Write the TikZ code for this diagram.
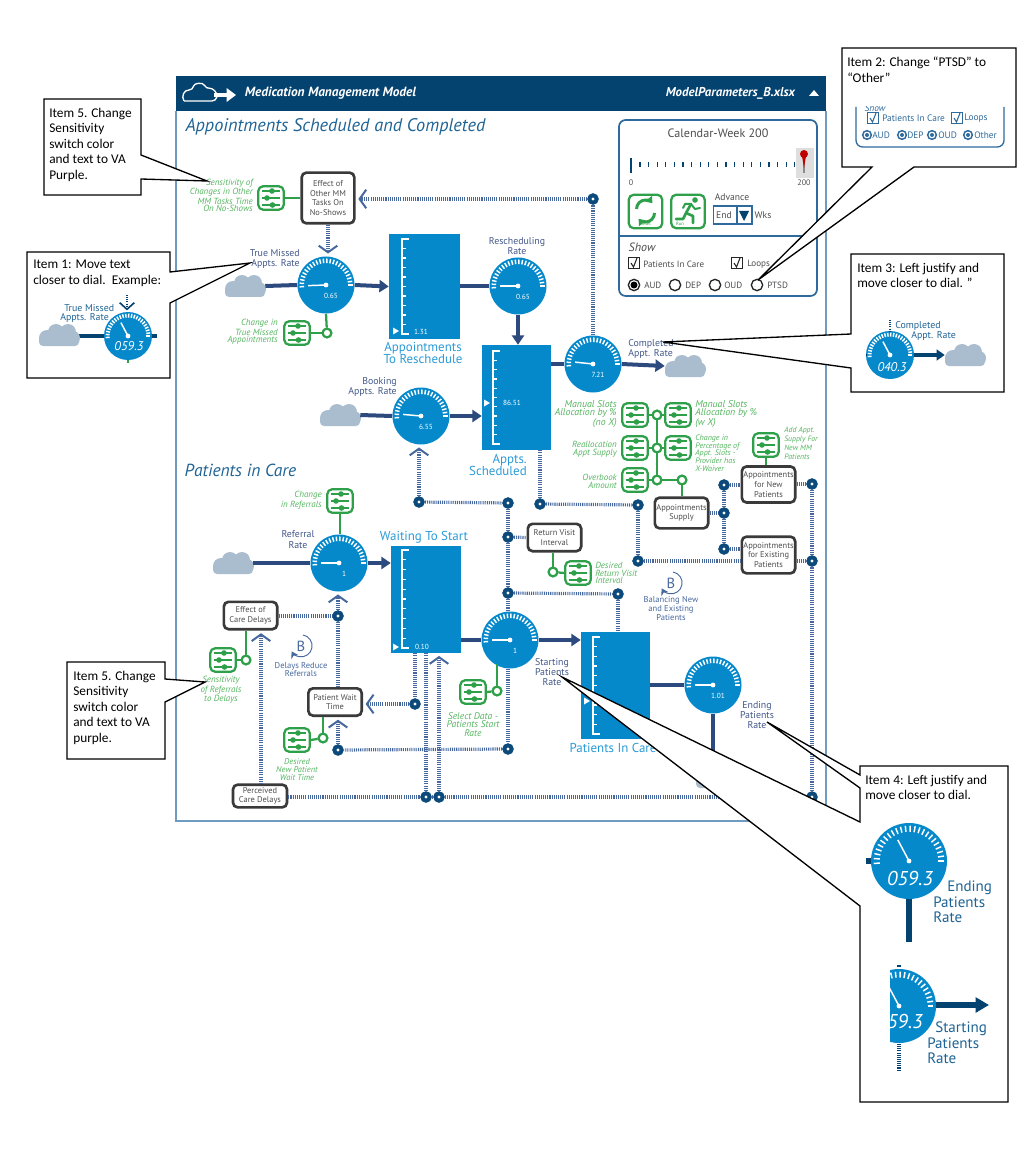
\documentclass[tikz,border=0pt]{standalone}
\usepackage{fontspec}
\setmainfont{Carlito}
\newfontfamily\modelfont{PT Sans}
\usepackage{xcolor}
\usetikzlibrary{shapes,arrows,arrows.meta,positioning}

\definecolor{headblue}{HTML}{04426F}
\definecolor{framecol}{HTML}{6F9BC0}
\definecolor{dialblue}{HTML}{0689CB}
\definecolor{stocktext}{HTML}{2A9AD6}
\definecolor{flowblue}{HTML}{2C4A7E}
\definecolor{ctrlblue}{HTML}{47689E}
\definecolor{junctblue}{HTML}{0B4A7A}
\definecolor{swgreen}{HTML}{2FA04A}
\definecolor{swtext}{HTML}{55B560}
\definecolor{labelblue}{HTML}{43588A}
\definecolor{titleblue}{HTML}{1F6495}
\definecolor{cloudgrey}{HTML}{A9BDCE}
\definecolor{boxdark}{HTML}{3A3A3A}
\definecolor{panelblue}{HTML}{2F6A9C}

\newcommand{\gauge}[6]{%
  \node[dialface, minimum size=#4*1.5pt] (#1) at (#2,#3) {};
  \foreach \a in {176,184,...,364} \draw[dialtick] (#2,#3) ++(\a:{#4*.77}) -- ++(\a:{#4*.16});
  \draw[needle] (#2,#3) -- ++(#5:{#4*.63});
  \fill[white] (#2,#3) circle[radius=2.4];
  \node[dialvalue] (#1val) at ({#2+5},{#3+10.5}) {#6};
}
\newcommand{\swicon}[3]{%
  \node[switchbox] (#1) at (#2,#3) {};
  \begin{scope}[shift={(#2,#3)}]
    \foreach \yy/\dd in {-7/1,0/-4,7/1.5} {
      \draw[swgreen, line width=1pt] (-9,\yy) -- (9,\yy);
      \fill[swgreen] (\dd,\yy) circle[radius=2.8];
    }
  \end{scope}
}
\newcommand{\cloudicon}[3]{%
  \node[minimum width=30pt, minimum height=16pt, inner sep=0pt] (#1) at (#2,#3) {};
  \begin{scope}[shift={(#2,#3)}]
    \fill[cloudgrey, rounded corners=3pt] (-20,0) rectangle (20,11);
    \fill[cloudgrey] (-12,3) circle[radius=8] (-3,-3) circle[radius=8] (9,-3) circle[radius=8] (14,3) circle[radius=7];
  \end{scope}
}
\newcommand{\stockscale}[4]{%
  \draw[white, line width=1pt] (#1+7,#2) -- (#1,#2) -- (#1,#3) -- (#1+7,#3);
  \foreach \k in {1,...,9} \draw[white, line width=1pt] (#1,{#2+(#3-#2)*\k/10}) -- ++(4,0);
  \fill[white] (#1-9,#4-3.5) -- (#1-3,#4) -- (#1-9,#4+3.5) -- cycle;
}
\newcommand{\chkbox}[4]{%
  \node[draw=#4, fill=white, line width=.9pt, minimum size=8.5pt, inner sep=0pt] (#1) at (#2,#3) {};
  \draw[#4, line width=.8pt] (#2-3,#3) -- (#2-.5,#3+4) -- (#2+3,#3-5);
}

\begin{document}
\begin{tikzpicture}[
    x=0.75pt, y=-0.75pt,
    dialface/.style={circle, fill=dialblue, inner sep=0pt},
    dialtick/.style={white, line width=1.1pt},
    needle/.style={white, line width=1.1pt},
    dialvalue/.style={white, inner sep=0pt, font=\modelfont\fontsize{5.5}{6}\selectfont},
    insetvalue/.style={white, inner sep=0pt, font=\modelfont\itshape},
    switchbox/.style={rectangle, draw=swgreen, fill=white, line width=1.7pt, rounded corners=3.5pt, minimum width=19pt, minimum height=17.5pt},
    swlink/.style={swgreen, line width=1.7pt},
    ring/.style={circle, draw=swgreen, fill=white, line width=1.6pt, minimum size=6.5pt, inner sep=0pt},
    varbox/.style={rectangle, draw=boxdark, fill=white, line width=2pt, rounded corners=3.5pt, align=center, inner sep=0pt, font=\modelfont\fontsize{6.3}{7.3}\selectfont, text=boxdark!90},
    stock/.style={rectangle, fill=dialblue, inner sep=0pt},
    stockname/.style={text=stocktext, align=center, inner sep=0pt, font=\modelfont\fontsize{9.7}{9.4}\selectfont},
    stockvalue/.style={white, inner sep=0pt, font=\modelfont\fontsize{5.5}{6}\selectfont},
    flowlabel/.style={text=labelblue, align=center, inner sep=0pt, font=\modelfont\fontsize{7.4}{7.6}\selectfont},
    swlabel/.style={text=swtext, inner sep=0pt, font=\modelfont\itshape\fontsize{6.7}{5.7}\selectfont},
    flow/.style={flowblue, line width=3pt},
    flowarrow/.style={flowblue, line width=3pt, -{Triangle[length=7pt, width=9pt]}},
    ctrl/.style={ctrlblue, line width=2.4pt, dash pattern=on .8pt off .8pt},
    ctrlarrow/.style={ctrlblue, line width=2.4pt, dash pattern=on .8pt off .8pt, -{Straight Barb[length=5pt, width=14pt, line width=1.5pt]}, shorten >=2pt},
    junction/.style={circle, fill=junctblue, minimum size=8.5pt, inner sep=0pt, path picture={\fill[white] (path picture bounding box.center) circle[radius=1.2pt];}},
    callout/.style={draw=black, fill=white, line width=1pt, line join=miter},
    notetext/.style={anchor=north west, align=left, inner sep=0pt, font=\fontsize{10}{11.55}\selectfont},
    paneltext/.style={text=black!70, inner sep=0pt, font=\modelfont\fontsize{6.8}{7}\selectfont},
    radio/.style={circle, draw=black!85, fill=white, line width=1pt, minimum size=8.5pt, inner sep=0pt},
    miniradio/.style={circle, draw=panelblue, fill=white, line width=1.1pt, minimum size=6.5pt, inner sep=0pt, path picture={\fill[panelblue] (path picture bounding box.center) circle[radius=1.5pt];}},
    minitext/.style={text=panelblue, inner sep=0pt, font=\modelfont\fontsize{7}{7}\selectfont},
    insetlabel/.style={text=titleblue, inner sep=0pt, font=\modelfont}
]
\useasboundingbox (0,0) rectangle (1028,1155);

\draw[framecol, line width=1pt] (176,111) -- (176,821) -- (826,821) -- (826,111);
\node[rectangle, fill=headblue, minimum width=488pt, minimum height=26pt, inner sep=0pt, anchor=north west] (header) at (175.5,76) {};
\draw[white, line width=1pt, rounded corners=3pt] (184,101) -- (216,101) .. controls (218,92) and (212,88) .. (206,89) .. controls (203,82) and (194,83) .. (193,90) .. controls (184,90) and (181,96) .. (184,101);
\draw[white, line width=3pt, -{Triangle[length=7pt, width=10pt]}] (214,95) -- (236,95);
\node[white, inner sep=0pt, font=\modelfont\bfseries\itshape\fontsize{10}{10}\selectfont] (modelname) at (330.5,93) {Medication Management Model};
\node[white, inner sep=0pt, font=\modelfont\bfseries\itshape\fontsize{9.6}{10}\selectfont] (filename) at (730.5,93) {ModelParameters\_B.xlsx};
\fill[white] (809,96) -- (814,90) -- (819,96) -- cycle;
\node[text=titleblue, inner sep=0pt, font=\modelfont\itshape\fontsize{13.7}{15}\selectfont] (apptitle) at (335.5,127) {Appointments Scheduled and Completed};
\node[text=titleblue, inner sep=0pt, font=\modelfont\itshape\fontsize{13.1}{15}\selectfont] (caretitle) at (240.5,470) {Patients in Care};

\draw[panelblue, line width=1.3pt, rounded corners=5pt] (619,120) rectangle (817,296);
\draw[panelblue, line width=1.3pt] (619,236) -- (817,236);
\node[paneltext, font=\modelfont\fontsize{9.1}{9}\selectfont] (calweek) at (718,133) {Calendar-Week 200};
\fill[black!13] (796,148) rectangle (814,178);
\draw[headblue, line width=1pt] (631,158) -- (631,173);
\foreach \x in {640,648.6,...,796} \draw[headblue, line width=1pt] (\x,162.5) -- (\x,167);
\draw[black!45, line width=1pt] (804,158) -- (804,173);
\fill[red!75!black] (804,154) circle[radius=4];
\fill[red!75!black] (802,156) -- (806,156) -- (804,168) -- cycle;
\node[paneltext, font=\modelfont\fontsize{6}{6}\selectfont] (slide0) at (631,183) {0};
\node[paneltext, font=\modelfont\fontsize{6}{6}\selectfont] (slide200) at (804,183) {200};
\node[switchbox, minimum width=25pt, minimum height=25pt] (resetbtn) at (645.5,211.5) {};
\node[switchbox, minimum width=25pt, minimum height=25pt] (runbtn) at (688,211.5) {};
\draw[swgreen, line width=2.2pt, -{Triangle[length=4.5pt, width=6.5pt]}] (636.5,209) arc[start angle=180, end angle=320, radius=9];
\draw[swgreen, line width=2.2pt, -{Triangle[length=4.5pt, width=6.5pt]}] (654.5,213) arc[start angle=0, end angle=140, radius=9];
\node[text=swgreen, inner sep=0pt, font=\modelfont\fontsize{3.5}{4}\selectfont] (resettext) at (645.5,224) {Reset};
\fill[swgreen] (695,200) circle[radius=2.8];
\draw[swgreen, line width=2pt, line cap=round, line join=round] (691,204) -- (686,213) -- (693,216) -- (693,223);
\draw[swgreen, line width=2pt, line cap=round, line join=round] (686,213) -- (683,219) -- (676,219);
\draw[swgreen, line width=1.5pt, line cap=round, line join=round] (683,208) -- (685,204) -- (691,204) -- (695,209) -- (700,208);
\node[text=swgreen, inner sep=0pt, font=\modelfont\fontsize{3.5}{4}\selectfont] (runtext) at (680,224) {Run};
\node[paneltext, font=\modelfont\fontsize{7.2}{8}\selectfont] (advance) at (732,197) {Advance};
\node[rectangle, draw=panelblue, line width=1pt, minimum width=29pt, minimum height=13.5pt, inner sep=0pt] (endbox) at (732.5,215) {};
\draw[panelblue, line width=1pt] (737,206) -- (737,224);
\node[paneltext, font=\modelfont\fontsize{7.2}{8}\selectfont] (endtext) at (724,215) {End};
\fill[headblue] (739,211) -- (749,211) -- (744,221) -- cycle;
\node[paneltext, font=\modelfont\fontsize{7.2}{8}\selectfont] (wks) at (763,215) {Wks};
\node[paneltext, font=\modelfont\itshape\fontsize{9}{10}\selectfont] (showtext) at (642,247) {Show};
\chkbox{chkcare}{634}{263}{black!85}
\node[paneltext, anchor=west] (caretext) at (643,264) {Patients In Care};
\chkbox{chkloops}{737}{263}{black!85}
\node[paneltext, anchor=west] (loopstext) at (747,264) {Loops};
\node[radio] (radaud) at (634,285) {};
\fill[black] (634,285) circle[radius=3.5];
\node[radio] (raddep) at (675,285) {};
\node[radio] (radoud) at (715,285) {};
\node[radio] (radptsd) at (757,285) {};
\node[paneltext, anchor=west] (audtext) at (644,285) {AUD};
\node[paneltext, anchor=west] (deptext) at (685,285) {DEP};
\node[paneltext, anchor=west] (oudtext) at (724,285) {OUD};
\node[paneltext, anchor=west] (ptsdtext) at (767,285) {PTSD};

\node[stock, minimum width=53.25pt, minimum height=78.75pt] (toresched) at (424.5,286.5) {};
\stockscale{402}{239}{334}{331}
\node[stockvalue] (tore) at (421,332) {1.31};
\node[stockname] (toreschedname) at (423,353) {Appointments\\To Reschedule};
\node[stock, minimum width=51.75pt, minimum height=78.75pt] (sched) at (516.5,397.5) {};
\stockscale{493}{351}{444}{403}
\node[stockvalue] (schedval) at (512,403) {86.51};
\node[stockname, align=right, anchor=north east] (schedname) at (527,454) {Appts.\\Scheduled};
\node[stock, minimum width=52.5pt, minimum height=80.25pt] (waiting) at (426,599.5) {};
\stockscale{402}{550}{648}{647}
\node[stockvalue] (waitval) at (422,647) {0.10};
\node[stockname] (waitname) at (424,537) {Waiting To Start};
\node[stock, minimum width=51.75pt, minimum height=80.25pt] (incare) at (615.5,685.5) {};
\stockscale{593}{637}{734}{701}
\node[stockname] (incarename) at (613,748) {Patients In Care};

\cloudicon{cloudmiss}{245}{286}
\cloudicon{cloudbook}{340}{415}
\cloudicon{cloudref}{233}{563}
\cloudicon{cloudcomp}{685}{366}
\cloudicon{cloudend}{716}{777}

\gauge{dialmiss}{326}{285}{28.5}{178}{0.65}
\gauge{dialres}{518}{286}{28.5}{180}{0.65}
\gauge{dialcomp}{593}{364}{28.5}{186}{7.21}
\gauge{dialbook}{421}{416}{28.5}{185}{6.55}
\gauge{dialref}{339}{563}{28.5}{180}{1}
\gauge{dialstart}{510}{640}{28.5}{180}{1}
\gauge{dialend}{713}{685}{28.5}{180}{1.01}

\draw[flow] (cloudmiss.east) -- (dialmiss.west);
\draw[flowarrow] (dialmiss.east) -- (toresched.west);
\draw[flow] (toresched.east |- dialres.west) -- (dialres.west);
\draw[flowarrow] (dialres.south) -- (dialres.south |- sched.north);
\draw[flow] (sched.east |- dialcomp.west) -- (dialcomp.west);
\draw[flowarrow] (dialcomp.east) -- (cloudcomp.west);
\draw[flow] (cloudbook.east) -- (dialbook.west);
\draw[flowarrow] (dialbook.east) -- (dialbook.east -| sched.west);
\draw[flow] (cloudref.east) -- (dialref.west);
\draw[flowarrow] (dialref.east) -- (dialref.east -| waiting.west);
\draw[flow] (waiting.east |- dialstart.west) -- (dialstart.west);
\draw[flowarrow] (dialstart.east) -- (dialstart.east -| incare.west);
\draw[flow] (incare.east |- dialend.west) -- (dialend.west);
\draw[flow] (dialend.south) -- (cloudend.north -| dialend.south);

\node[flowlabel, align=right, anchor=east] (missname) at (300,259) {True Missed\\Appts. Rate};
\node[flowlabel] (resname) at (517,246.5) {Rescheduling\\Rate};
\node[flowlabel, align=right, anchor=east] (bookname) at (397,387) {Booking\\Appts. Rate};
\node[flowlabel, align=left, anchor=west] (compname) at (628,349) {Completed\\Appt. Rate};
\node[flowlabel] (refname) at (298,539.5) {Referral\\Rate};
\node[flowlabel] (startname) at (552,672) {Starting\\Patients\\Rate};
\node[flowlabel] (endname) at (757,715) {Ending\\Patients\\Rate};

\node[varbox, minimum width=39.5pt, minimum height=38pt] (effshow) at (328,198) {Effect of\\Other MM\\Tasks On\\No-Shows};
\node[varbox, minimum width=40pt, minimum height=20.5pt] (effcare) at (250.5,615.5) {Effect of\\Care Delays};
\node[varbox, minimum width=40pt, minimum height=20.5pt] (waittime) at (335,702) {Patient Wait\\Time};
\node[varbox, minimum width=40.5pt, minimum height=17pt] (percdelay) at (260,796) {Perceived\\Care Delays};
\node[varbox, minimum width=40pt, minimum height=20.5pt] (revisit) at (554.5,537.5) {Return Visit\\Interval};
\node[varbox, minimum width=40pt, minimum height=23pt] (supply) at (681.5,513) {Appointments\\Supply};
\node[varbox, minimum width=40pt, minimum height=27pt] (apptnew) at (768.5,484.5) {Appointments\\for New\\Patients};
\node[varbox, minimum width=40pt, minimum height=27.5pt] (apptold) at (768.5,555) {Appointments\\for Existing\\Patients};

\node[junction] (jeff) at (593,199) {};
\node[junction] (jbook) at (419,502) {};
\node[junction] (jtop) at (508,503) {};
\node[junction] (jvisit) at (508,537) {};
\node[junction] (jstart) at (508,593) {};
\node[junction] (jcare) at (618,594) {};
\node[junction] (jbot) at (508,749) {};
\node[junction] (jwait) at (338,750) {};
\node[junction] (jstock) at (415,704) {};
\node[junction] (jdelay) at (338,616) {};
\node[junction] (jperc) at (426,797) {};
\node[junction] (jperb) at (439,797) {};
\node[junction] (jright) at (812,797) {};
\node[junction] (jnewr) at (812,484) {};
\node[junction] (joldr) at (812,561) {};
\node[junction] (jnewl) at (724,485) {};
\node[junction] (jsup) at (724,513) {};
\node[junction] (joldl) at (724,549) {};
\node[junction] (jsched) at (540,504) {};
\node[junction] (jmid) at (638,505) {};
\node[junction] (jold) at (638,561) {};

\draw[ctrl] (dialcomp.north) -- (jeff);
\draw[ctrlarrow] (jeff) -- (jeff -| effshow.east);
\draw[ctrlarrow] (effshow.south) -- (effshow.south |- dialmiss.north);
\draw[ctrlarrow] (jbook) -- (jbook |- dialbook.south);
\draw[ctrl] (jbook) -- (jtop);
\draw[ctrl] (jtop) -- (jvisit);
\draw[ctrl] (jvisit) -- (jstart);
\draw[ctrl] (jstart) -- (jstart |- dialstart.north);
\draw[ctrl] (jvisit) -- (revisit.west);
\draw[ctrl] (jstart) -- (jcare);
\draw[ctrl] (jcare) -- (jcare |- incare.north);
\draw[ctrl] (jstart |- dialstart.south) -- (jbot);
\draw[ctrl] (jbot) -- (jwait);
\draw[ctrlarrow] (jwait) -- (jwait |- waittime.south);
\draw[ctrl] (jstock |- waiting.south) -- (jstock);
\draw[ctrlarrow] (jstock) -- (jstock -| waittime.east);
\draw[ctrl] (jperc |- waiting.south) -- (jperc);
\draw[ctrlarrow] (jperb) -- (jperb |- waiting.south);
\draw[ctrl] (percdelay.east |- jperc) -- (jperc);
\draw[ctrl] (jperc) -- (jperb);
\draw[ctrl] (jperb) -- (jright);
\coordinate (percup) at (261,784);
\draw[ctrlarrow] (percup) -- (percup |- effcare.south);
\draw[ctrl] (effcare.east |- jdelay) -- (jdelay);
\draw[ctrlarrow] (jdelay) -- (jdelay |- dialref.south);
\draw[ctrl] (jdelay) -- (jdelay |- waittime.north);
\draw[ctrl] (jright) -- (joldr);
\draw[ctrl] (joldr) -- (jnewr);
\draw[ctrl] (apptnew.east |- jnewr) -- (jnewr);
\draw[ctrl] (apptold.east |- joldr) -- (joldr);
\draw[ctrl] (jnewl) -- (jsup);
\draw[ctrl] (jsup) -- (joldl);
\draw[ctrl] (jnewl) -- (jnewl -| apptnew.west);
\draw[ctrl] (joldl) -- (joldl -| apptold.west);
\draw[ctrl] (supply.east) -- (jsup);
\draw[ctrl] (jsched |- sched.south) -- (jsched);
\draw[ctrl] (jsched) -- (jmid);
\draw[ctrl] (jmid) -- (jold);
\draw[ctrl] (jold) -- (jold -| apptold.west);
\foreach \j in {jeff,jbook,jtop,jvisit,jstart,jcare,jbot,jwait,jstock,jdelay,jperc,jperb,jright,jnewr,joldr,jnewl,jsup,joldl,jsched,jmid,jold} \node[junction] at (\j) {};

\swicon{swshow}{271}{198}
\swicon{swmiss}{297}{333}
\swicon{swref}{223}{660}
\swicon{swchg}{340}{501}
\swicon{swwait}{297}{740}
\swicon{swstart}{473}{692}
\swicon{swvisit}{578}{573}
\swicon{swslotl}{635}{415}
\swicon{swslotr}{678}{415}
\swicon{swrealloc}{635}{448}
\swicon{swpct}{678}{448}
\swicon{swover}{635}{480}
\swicon{swadd}{766}{445}

\node[ring] (rmiss) at (327,333) {};
\node[ring] (rref) at (246,660) {};
\node[ring] (rwait) at (323,738) {};
\node[ring] (rstart) at (497,691) {};
\node[ring] (rvisit) at (553,572) {};
\node[ring] (rslot) at (657,415) {};
\node[ring] (rreal) at (657,448) {};
\node[ring] (rover) at (657,480) {};
\node[ring] (rsup) at (682,480) {};

\draw[swlink] (swshow.east) -- (effshow.west |- swshow.east);
\draw[swlink] (dialmiss.south) -- (rmiss);
\draw[swlink] (rmiss) -- (swmiss.east);
\draw[swlink] (rref |- effcare.south) -- (rref);
\draw[swlink] (rref) -- (swref.east);
\draw[swlink] (swchg.south) -- (swchg.south |- dialref.north);
\draw[swlink] (rwait |- waittime.south) -- (rwait);
\draw[swlink] (rwait) -- (swwait.east);
\draw[swlink] (497,664) -- (rstart);
\draw[swlink] (rstart) -- (swstart.east);
\draw[swlink] (rvisit |- revisit.south) -- (rvisit);
\draw[swlink] (rvisit) -- (swvisit.west);
\draw[swlink] (swslotl.east) -- (rslot);
\draw[swlink] (rslot) -- (swslotr.west);
\draw[swlink] (swrealloc.east) -- (rreal);
\draw[swlink] (rreal) -- (swpct.west);
\draw[swlink] (swover.east) -- (rover);
\draw[swlink] (rover) -- (rsup);
\draw[swlink] (rslot) -- (rreal);
\draw[swlink] (rreal) -- (rover);
\draw[swlink] (rsup) -- (rsup |- supply.north);
\draw[swlink] (swadd.south) -- (swadd.south |- apptnew.north);
\foreach \r in {rmiss,rref,rwait,rstart,rvisit,rslot,rreal,rover,rsup} \node[ring] at (\r) {};

\node[swlabel, align=right, anchor=east] (lblshow) at (253,195.5) {Sensitivity of\\Changes in Other\\MM Tasks Time\\On No-Shows};
\node[swlabel, align=right, anchor=east] (lblmiss) at (278,332) {Change in\\True Missed\\Appointments};
\node[swlabel, align=center] (lblref) at (221,690) {Sensitivity\\of Referrals\\to Delays};
\node[swlabel, align=right, anchor=east] (lblchg) at (322,500.5) {Change\\in Referrals};
\node[swlabel, align=center, font=\modelfont\itshape\fontsize{6.3}{5.7}\selectfont] (lblwait) at (297,769.5) {Desired\\New Patient\\Wait Time};
\node[swlabel, align=center, font=\modelfont\itshape\fontsize{7.2}{6.2}\selectfont] (lblstart) at (473,724.5) {Select Data -\\Patients Start\\Rate};
\node[swlabel, align=left, anchor=west] (lblvisit) at (595,573) {Desired\\Return Visit\\Interval};
\node[swlabel, align=right, anchor=east, font=\modelfont\itshape\fontsize{7.4}{5.7}\selectfont] (lblslotl) at (617,414.5) {Manual Slots\\Allocation by \%\\(no X)};
\node[swlabel, align=left, anchor=west, font=\modelfont\itshape\fontsize{7.4}{5.7}\selectfont] (lblslotr) at (695,414.5) {Manual Slots\\Allocation by \%\\(w X)};
\node[swlabel, align=right, anchor=east] (lblreal) at (617,449) {Reallocation\\Appt Supply};
\node[swlabel, align=left, anchor=west, font=\modelfont\itshape\fontsize{6}{5.7}\selectfont] (lblpct) at (695,453) {Change in\\Percentage of\\Appt. Slots -\\Provider has\\X-Waiver};
\node[swlabel, align=right, anchor=east] (lblover) at (617,481.5) {Overbook\\Amount};
\node[swlabel, align=left, anchor=west, font=\modelfont\itshape\fontsize{5.8}{6.7}\selectfont] (lbladd) at (784,443.5) {Add Appt.\\Supply For\\New MM\\Patients};

\node[text=ctrlblue, inner sep=0pt, font=\modelfont\fontsize{11}{12}\selectfont] (loopdelay) at (301,646) {B};
\draw[ctrlblue, line width=.7pt, -{Stealth[length=5pt, width=6pt]}] (303,635) arc[start angle=-80, end angle=150, radius=11];
\node[text=ctrlblue, align=center, inner sep=0pt, font=\modelfont\fontsize{6.4}{6.7}\selectfont] (loopdelayname) at (301,669.5) {Delays Reduce\\Referrals};
\node[text=ctrlblue, inner sep=0pt, font=\modelfont\fontsize{11}{12}\selectfont] (loopbal) at (671,583) {B};
\draw[ctrlblue, line width=.7pt, -{Stealth[length=5pt, width=6pt]}] (673,572) arc[start angle=-80, end angle=150, radius=11];
\node[text=ctrlblue, align=center, inner sep=0pt, font=\modelfont\fontsize{6.4}{5.7}\selectfont] (loopbalname) at (671,608.5) {Balancing New\\and Existing\\Patients};

\draw[callout] (44,99) -- (141,99) -- (141,155) -- (207,181) -- (141,179) -- (141,195) -- (44,195) -- cycle;
\node[notetext] (item5a) at (49,108) {Item 5. Change\\Sensitivity\\switch color\\and text to VA\\Purple.};

\draw[callout] (27,252) -- (170,252) -- (170,272) -- (250,263) -- (170,303) -- (170,378) -- (27,378) -- cycle;
\node[notetext] (item1) at (33,260) {Item 1: Move text\\closer to dial.\ \ Example:};
\gauge{dialone}{128}{336}{24}{242}{}
\draw[headblue, line width=3pt] (73,336) -- (dialone.west);
\draw[headblue, line width=3pt] (dialone.east) -- (157,336);
\cloudicon{cloudone}{59}{335}
\coordinate (onetop) at (127,295);
\draw[ctrlarrow, headblue, line width=1.6pt, -{Straight Barb[length=5pt, width=11pt, line width=1.2pt]}, shorten >=1pt] (onetop) -- (dialone.north -| onetop);
\draw[swgreen, line width=1.5pt] (dialone.south) -- ++(0,3);
\node[insetvalue, font=\modelfont\itshape\fontsize{9.5}{10}\selectfont] (oneval) at (129,346) {059.3};
\node[insetlabel, align=left, anchor=west, font=\modelfont\fontsize{7.4}{6.7}\selectfont] (onename) at (60,313.5) {\hspace*{3pt}True Missed\\Appts. Rate};

\draw[callout] (842,48) -- (1016,48) -- (1016,167) -- (914,167) -- (758,280) -- (872,167) -- (842,167) -- cycle;
\node[notetext] (item2) at (847,57) {Item 2: Change “PTSD” to\\“Other”};
\draw[panelblue, line width=1pt, rounded corners=5pt] (856,107) -- (856,147) -- (1004,147) -- (1004,107);
\begin{scope}
  \clip (854,107) rectangle (905,112);
  \node[minitext, font=\modelfont\itshape\fontsize{7}{7}\selectfont] (minishow) at (875,108) {Show};
\end{scope}
\chkbox{minicare}{873}{118}{panelblue}
\node[minitext, anchor=west] (minicaretext) at (882,118) {Patients In Care};
\chkbox{miniloops}{957}{118}{panelblue}
\node[minitext, anchor=west] (miniloopstext) at (964,118) {Loops};
\node[miniradio] (miniaud) at (867,135) {};
\node[miniradio] (minidep) at (902,135) {};
\node[miniradio] (minioud) at (932,135) {};
\node[miniradio] (miniother) at (968,135) {};
\node[minitext, anchor=west] (miniaudtext) at (872,135) {AUD};
\node[minitext, anchor=west] (minideptext) at (907,135) {DEP};
\node[minitext, anchor=west] (minioudtext) at (938,135) {OUD};
\node[minitext, anchor=west] (miniothertext) at (974,135) {Other};

\draw[callout] (851,254) -- (1004,254) -- (1004,392) -- (851,392) -- (851,368) -- (663,342) -- (851,334) -- cycle;
\node[notetext] (item3) at (857,263) {Item 3: Left justify and\\move closer to dial. ”};
\gauge{dialthree}{890}{355}{24}{242}{}
\cloudicon{cloudthree}{965}{355}
\draw[headblue, line width=2.5pt, -{Triangle[length=6pt, width=8pt]}] (dialthree.east) -- (cloudthree.west);
\draw[headblue, line width=1.6pt] (866,355) -- (dialthree.west);
\coordinate (threetop) at (890,320);
\draw[ctrl, headblue, line width=1.6pt] (threetop) -- (dialthree.north);
\node[insetvalue, font=\modelfont\itshape\fontsize{9.5}{10}\selectfont] (threeval) at (892,367) {040.3};
\node[insetlabel, align=left, anchor=west, font=\modelfont\fontsize{7.4}{6.4}\selectfont] (threename) at (895,331) {Completed\\\hspace*{12pt}Appt. Rate};

\draw[callout] (860,766) -- (1008,766) -- (1008,1102) -- (860,1102) -- (860,906) -- (562,677) -- (860,822) -- (860,788) -- (767,722) -- (860,775) -- cycle;
\node[notetext] (item4) at (865,775) {Item 4: Left justify and\\move closer to dial.};
\draw[headblue, line width=4pt] (866,861) -- (875,861);
\gauge{dialfour}{909}{861}{38}{242}{}
\draw[headblue, line width=4.5pt] (dialfour.south) -- (909,942);
\node[insetvalue, font=\modelfont\itshape\fontsize{15}{16}\selectfont] (fourval) at (910,878) {059.3};
\node[insetlabel, align=left, anchor=west, font=\modelfont\fontsize{11.3}{11.6}\selectfont] (fourname) at (933,902) {\hspace*{10.5pt}Ending\\Patients\\Rate};
\begin{scope}
  \clip (890,960) rectangle (945,1050);
  \gauge{dialfive}{899}{1006}{37}{242}{}
\end{scope}
\draw[headblue, line width=4pt, -{Triangle[length=10pt, width=11pt]}] (936,1005) -- (989,1005);
\draw[ctrl, headblue, line width=3pt] (899,1044) -- (899,1070);
\draw[headblue, line width=3pt] (899,965) -- (899,967);
\node[insetvalue, font=\modelfont\itshape\fontsize{15}{16}\selectfont] (fiveval) at (905,1021) {59.3};
\node[insetlabel, align=left, anchor=west, font=\modelfont\fontsize{11.3}{11.6}\selectfont] (fivename) at (927,1043) {\hspace*{6pt}Starting\\Patients\\Rate};

\draw[callout] (67,662) -- (165,662) -- (165,679) -- (205,682) -- (165,702) -- (165,759) -- (67,759) -- cycle;
\node[notetext] (item5b) at (73,671) {Item 5. Change\\Sensitivity\\switch color\\and text to VA\\purple.};
\end{tikzpicture}
\end{document}
